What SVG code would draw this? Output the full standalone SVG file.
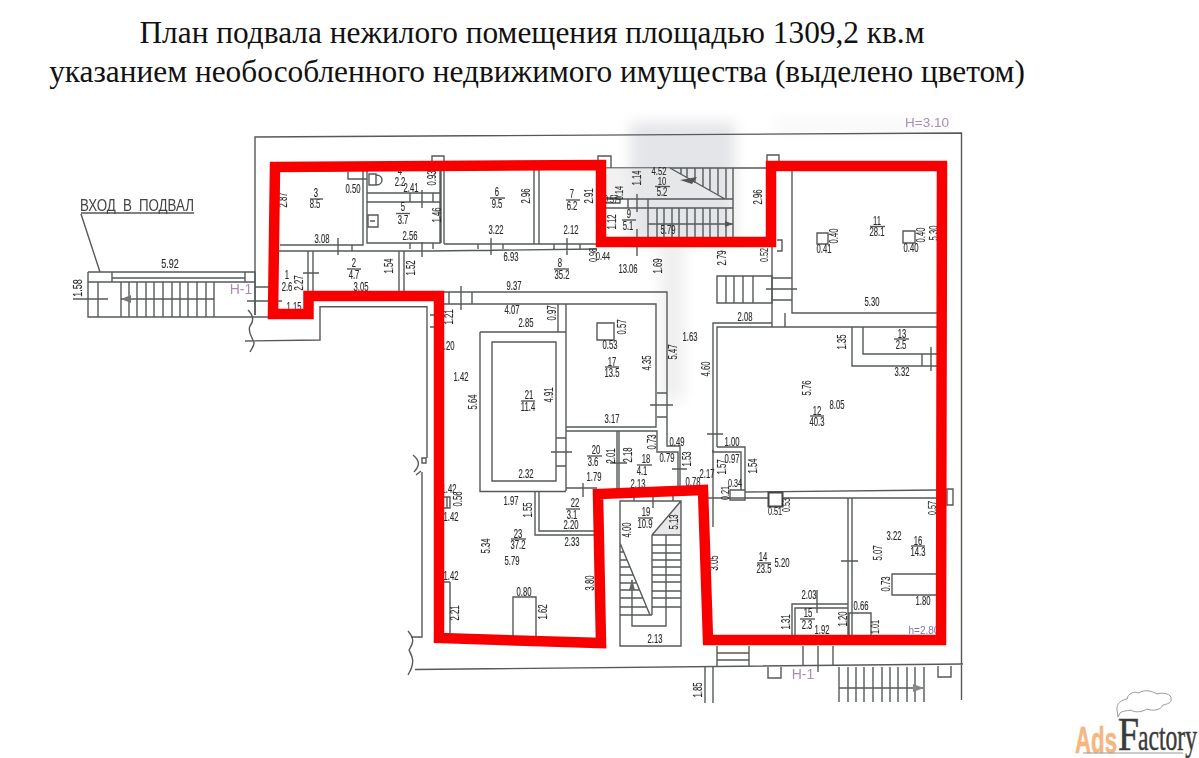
<svg xmlns="http://www.w3.org/2000/svg" width="1199" height="758" viewBox="0 0 1199 758">
<style>
.title{font-family:"Liberation Serif",serif;font-size:31.35px;fill:#111;text-anchor:middle}
.w{fill:none;stroke:#555a59;stroke-width:1.4}
.d{font-family:"Liberation Sans",sans-serif;font-size:12px;fill:#2c2c2c;stroke:#2c2c2c;stroke-width:.15;text-anchor:middle}
.p{font-family:"Liberation Sans",sans-serif;fill:#a98fb3;text-anchor:middle}
.red{fill:none;stroke:#f80000;stroke-width:10.500;stroke-linejoin:miter}
</style>
<defs>
<filter id="scan" x="-5%" y="-5%" width="110%" height="110%"><feGaussianBlur stdDeviation="0.35"/></filter>
<filter id="soft" x="-30%" y="-30%" width="160%" height="160%"><feGaussianBlur stdDeviation="7"/></filter>
</defs>
<rect width="1199" height="758" fill="#fff"/>
<g id="title">
<text class="title" x="532" y="43">План подвала нежилого помещения площадью 1309,2 кв.м</text>
<text class="title" x="537" y="82">указанием необособленного недвижимого имущества (выделено цветом)</text>
</g>
<g id="scan-shade" filter="url(#soft)">
<rect x="630" y="122" width="105" height="120" fill="#e4e5e8"/>
<rect x="660" y="240" width="24" height="160" fill="#efefef"/>
<rect x="775" y="120" width="175" height="12" fill="#f6f6f8"/>
</g>
<g id="plan" filter="url(#scan)">
<g id="walls">
<path class="w" d="M255 315V137L961.500 133V700M415 669.500L963 664"/>
<path class="w" d="M88 272H245V282M88 272V317H270M88 282H255M112 272V282M112 278H245M245 272H255V315M255 287H270M247 301H282M98 282V317M121 282V317M129 282V317M137 282V317M146 282V317M154 282V317M163 282V317M172 282V317M180 282V317M188 282V317M197 282V317M206 282V317M214 282V317M73 299H108M121 299H214"/>
<path d="M121 299L131 295V303Z" fill="#777"/>
<path class="w" d="M81 213H194M81 214L100 272"/>
<path class="w" d="M248 310C254 316 254 321 250 326C247 332 253 338 254 343C254 347 251 349 250 352M245 341L320 340V306.700H427V458M413 455C420 461 420 465 414 472M416 475L421 471M422 458H426V463H422ZM422 472V637H411M408 631C416 640 412 645 409 650C412 656 416 662 408 675"/>
<path class="w" d="M280 245H363V171M348 172V179H367V171M278 251H430L597 249M367 171V243H440V171M367 193H440M367 202H440M410 193V202M422 190V208M433 193V202M410 243V249M422 242V257M433 243V249M338 238V255M352 245V251M308 251V291M313 251V291M303 273H319M399 251V292M404 251V292M444 170V244M441 170V243M534 170V244M539 170V244M444 244H597M478 244V249M491 238V255M503 244V249M554 244V249M567 238V255M580 244V249"/>
<path class="w" d="M369 174H376V185H369ZM376 175C384 175 384 185 376 185M368 215H378V227H368ZM370 221H375"/>
<path class="w" d="M432 162V156H444V162M598 160V156H611V168M767 168V155H779V162M605 168H767"/>
<path fill="#e8e8ea" d="M670 168L725 199H606V168Z" opacity=".6"/>
<path class="w" d="M670 168L725 199M681 168V174M687 168V178M695 168V183M703 168V187M710 168V191M718 168V195M726 168V199M733 168V237M605 199H733M605 208H733M628 199V208M648 199V237M657 208V237M664 208V237M672 208V237M679 208V237M687 208V237M695 208V237M703 208V237M710 208V237M718 208V237M726 208V237M648 224H733M637 194V212M606 198H620V203H606M637 229V256M772 245V313M777 240H782V251H777"/>
<path d="M733 224L725 221V227Z" fill="#555"/>
<path d="M680 180L697 177L692 184Z" fill="#555"/>
<path class="w" d="M792 171V313H937M717 276H772V303H717ZM726 276V303M734 276V303M743 276V303M753 276V303M772 278H792M772 300H792M766 289H797M772 313V327H785V313M713 527V323H772M717 447V327H938"/>
<path class="w" d="M817 233h11v11h-11zM903 231h12v12h-12z"/>
<path class="w" d="M717 447H745V490M713 450V452H741V490M707 434H723M745 492L938 490M707 498H768M783 498H937M730 490H745V500H730ZM947 489H953V505H947ZM852 327V366H937M863 327V354H937M922 354V366M931 347V371"/>
<path d="M768.500 492.500h14v14h-14z" fill="#fff" stroke="#444" stroke-width="2"/>
<path class="w" d="M848 498V635M852 498V635M841 561H858M792 635V604H848M795 635V608H848M817 590V613M849 635V613H871V635M936 574H892V595H936M717 646V666M749 646V666M717 653H749M717 660H749M803 646V666M833 646V666M818 646V672M768 667V678H781V667M938 666V677H951V666M705 667V703M713 667V703"/>
<path class="w" d="M839 667V702M848 667V702M856 667V702M864 667V702M873 667V702M882 667V702M890 667V702M898 667V702M907 667V702M915 667V702M924 667V702M839 688H923"/>
<path d="M924 688L913 684V692Z" fill="#888"/>
<path class="w" d="M443 292H667V446H680V490M443 304H656V427H566M449 292V304M461 286V310M472 292V304M558 304V332M480 332H566V491M480 332V491.500H566M492 342H556V481H492ZM556 438H566M556 466H566M551 452H572M566 304V427M566 431H657V452H678V488M657 393H667M657 417H667M650 405H673M597 323h17v17h-17zM617 431V490M619 431V490M610 463H627M566 488H597M583 483V497M672 469H687M430 315H435V327H430"/>
<path class="w" d="M535 492V535H597M539 492V531H597M450 582V635M444 582H450M444 497H450V508H444M447 497V508M513 636V597H536V636"/>
<path fill="#e8e8ea" d="M652 535L681 501V535Z"/>
<path class="w" d="M620 501H681V646H620ZM652 535L681 501M652 535V615M666 535V626H632V615M652 535H681M652 545H681M652 553H681M652 560H681M652 567H681M652 575H681M652 582H681M652 591H681M652 598H681M652 607H681M620 543L650 615M620 615H652M620 552H624M620 560H627M620 567H630M620 575H633M620 583H636M620 590H639M620 598H643M620 607H646M632 580V615M634 495V501M653 495V508M673 495V501"/>
<path d="M632 579L629 590H635Z" fill="#666"/>
</g>
<g id="labels">
<text class="d" transform="translate(316 197) scale(.64 1)">3</text><text class="d" transform="translate(315 208) scale(.64 1)">8.5</text><path class="w" d="M310 199H323"/>
<text class="d" transform="translate(353 193) scale(.64 1)">0.50</text>
<text class="d" transform="translate(287 200) rotate(-90) scale(.64 1)">2.87</text>
<text class="d" transform="translate(400 175) scale(.64 1)">4</text><text class="d" transform="translate(400 186) scale(.64 1)">2.2</text>
<text class="d" transform="translate(411 192) scale(.64 1)">2.41</text>
<text class="d" transform="translate(436 178) rotate(-90) scale(.64 1)">0.93</text>
<text class="d" transform="translate(403 211) scale(.64 1)">5</text><text class="d" transform="translate(403 224) scale(.64 1)">3.7</text><path class="w" d="M396 213.500H410"/>
<text class="d" transform="translate(441 215) rotate(-90) scale(.64 1)">1.46</text>
<text class="d" transform="translate(410 240) scale(.64 1)">2.56</text>
<text class="d" transform="translate(322 243) scale(.64 1)">3.08</text>
<text class="d" transform="translate(287 279) scale(.64 1)">1</text><text class="d" transform="translate(287 291) scale(.64 1)">2.6</text>
<text class="d" transform="translate(303 283) rotate(-90) scale(.64 1)">2.27</text>
<text class="d" transform="translate(354 267) scale(.64 1)">2</text><text class="d" transform="translate(354 279) scale(.64 1)">4.7</text><path class="w" d="M347 269H361"/>
<text class="d" transform="translate(393 266) rotate(-90) scale(.64 1)">1.54</text>
<text class="d" transform="translate(415 268) rotate(-90) scale(.64 1)">1.52</text>
<text class="d" transform="translate(361 291) scale(.64 1)">3.05</text>
<text class="d" transform="translate(294 311) scale(.64 1)">1.15</text>
<text class="d" transform="translate(453 317) rotate(-90) scale(.64 1)">1.21</text>
<text class="d" transform="translate(170 268) scale(.75 1)">5.92</text>
<text class="d" transform="translate(82 288) rotate(-90) scale(.75 1)">1.58</text>
<text class="p" x="241" y="294" font-size="14">Н-1</text>
<text class="d" transform="translate(497 196) scale(.64 1)">6</text><text class="d" transform="translate(497 207.500) scale(.64 1)">9.5</text><path class="w" d="M490 198H505"/>
<text class="d" transform="translate(530 196) rotate(-90) scale(.64 1)">2.96</text>
<text class="d" transform="translate(496 234) scale(.64 1)">3.22</text>
<text class="d" transform="translate(572 198) scale(.64 1)">7</text><text class="d" transform="translate(572 209.500) scale(.64 1)">6.2</text><path class="w" d="M566 200H580"/>
<text class="d" transform="translate(593 196) rotate(-90) scale(.64 1)">2.91</text>
<text class="d" transform="translate(571 234) scale(.64 1)">2.12</text>
<text class="d" transform="translate(511 261) scale(.64 1)">6.93</text>
<text class="d" transform="translate(560 267) scale(.64 1)">8</text><text class="d" transform="translate(562 279) scale(.64 1)">35.2</text><path class="w" d="M554 269H569"/>
<text class="d" transform="translate(628 273) scale(.64 1)">13.06</text>
<text class="d" transform="translate(662 266) rotate(-90) scale(.64 1)">1.69</text>
<text class="d" transform="translate(726 258) rotate(-90) scale(.64 1)">2.79</text>
<text class="d" transform="translate(514 290) scale(.64 1)">9.37</text>
<text class="d" transform="translate(512 314) scale(.64 1)">4.07</text>
<text class="d" transform="translate(526 327) scale(.64 1)">2.85</text>
<text class="d" transform="translate(556 313) rotate(-90) scale(.64 1)">0.97</text>
<text class="d" transform="translate(626 327) rotate(-90) scale(.64 1)">0.57</text>
<text class="d" transform="translate(610 349) scale(.64 1)">0.53</text>
<text class="d" transform="translate(745 321) scale(.64 1)">2.08</text>
<text class="d" transform="translate(690 341) scale(.64 1)">1.63</text>
<text class="d" transform="translate(659 175) scale(.64 .9)">4.52</text>
<text class="d" transform="translate(641 178) rotate(-90) scale(.64 1)">1.14</text>
<text class="d" transform="translate(662 185) scale(.64 .9)">10</text><text class="d" transform="translate(662 195.500) scale(.64 1)">5.2</text><path class="w" d="M655 186.500H670"/>
<text class="d" transform="translate(623 193) rotate(-90) scale(.6 .9)">0.14</text>
<text class="d" transform="translate(611 203) scale(.6 .9)">0.57</text>
<text class="d" transform="translate(616 222) rotate(-90) scale(.64 1)">1.12</text>
<text class="d" transform="translate(629 218) scale(.64 1)">9</text><text class="d" transform="translate(628 229.500) scale(.64 1)">5.1</text><path class="w" d="M622 220H636"/>
<text class="d" transform="translate(668 234) scale(.64 1)">5.79</text>
<text class="d" transform="translate(762 197) rotate(-90) scale(.64 1)">2.96</text>
<text class="d" transform="translate(603 260) scale(.6 .9)">0.44</text>
<text class="d" transform="translate(597 255) rotate(-90) scale(.6 .9)">0.98</text>
<text class="d" transform="translate(768 255) rotate(-90) scale(.6 .9)">0.52</text>
<text class="d" transform="translate(877 225) scale(.64 1)">11</text><text class="d" transform="translate(877 236) scale(.64 1)">28.1</text><path class="w" d="M870 226.500H885"/>
<text class="d" transform="translate(838 236) rotate(-90) scale(.64 1)">0.40</text>
<text class="d" transform="translate(824 253) scale(.64 1)">0.41</text>
<text class="d" transform="translate(925 235) rotate(-90) scale(.64 1)">0.40</text>
<text class="d" transform="translate(911 252) scale(.64 1)">0.40</text>
<text class="d" transform="translate(938 233) rotate(-90) scale(.64 1)">5.30</text>
<text class="d" transform="translate(872 306) scale(.64 1)">5.30</text>
<text class="d" transform="translate(846 342) rotate(-90) scale(.64 1)">1.35</text>
<text class="d" transform="translate(902 337.500) scale(.64 1)">13</text><text class="d" transform="translate(901 349) scale(.64 1)">2.5</text><path class="w" d="M894 339H909"/>
<text class="p" x="927" y="127" font-size="13.500">Н=3.10</text>
<text class="d" transform="translate(447 350) scale(.64 1)">1.20</text>
<text class="d" transform="translate(461 381) scale(.64 1)">1.42</text>
<text class="d" transform="translate(477 402) rotate(-90) scale(.64 1)">5.64</text>
<text class="d" transform="translate(529 399) scale(.64 1)">21</text><text class="d" transform="translate(528 410.500) scale(.64 1)">11.4</text><path class="w" d="M521 401H535"/>
<text class="d" transform="translate(553 395) rotate(-90) scale(.64 1)">4.91</text>
<text class="d" transform="translate(526 478) scale(.64 1)">2.32</text>
<text class="d" transform="translate(612 365.500) scale(.64 1)">17</text><text class="d" transform="translate(612 377) scale(.64 1)">13.5</text><path class="w" d="M605 367H619"/>
<text class="d" transform="translate(651 363) rotate(-90) scale(.64 1)">4.35</text>
<text class="d" transform="translate(612 423) scale(.64 1)">3.17</text>
<text class="d" transform="translate(677 352) rotate(-90) scale(.64 1)">5.47</text>
<text class="d" transform="translate(710 369) rotate(-90) scale(.64 1)">4.60</text>
<text class="d" transform="translate(677 446) scale(.64 1)">0.49</text>
<text class="d" transform="translate(656 442) rotate(-90) scale(.64 1)">0.73</text>
<text class="d" transform="translate(667 462) scale(.64 1)">0.79</text>
<text class="d" transform="translate(691 459) rotate(-90) scale(.64 1)">1.53</text>
<text class="d" transform="translate(596 454) scale(.64 1)">20</text><text class="d" transform="translate(593 465.500) scale(.64 1)">3.6</text><path class="w" d="M587 456H602"/>
<text class="d" transform="translate(615 456) rotate(-90) scale(.64 1)">2.01</text>
<text class="d" transform="translate(632 455) rotate(-90) scale(.64 1)">2.18</text>
<text class="d" transform="translate(646 463) scale(.64 1)">18</text><text class="d" transform="translate(642 474.500) scale(.64 1)">4.1</text><path class="w" d="M637 465H652"/>
<text class="d" transform="translate(594 481) scale(.64 1)">1.79</text>
<text class="d" transform="translate(638 488) scale(.64 1)">2.13</text>
<text class="d" transform="translate(693 486) scale(.64 1)">0.78</text>
<text class="d" transform="translate(707 478) scale(.64 1)">2.17</text>
<text class="d" transform="translate(511 505) scale(.64 1)">1.97</text>
<text class="d" transform="translate(449 493) scale(.64 1)">1.42</text>
<text class="d" transform="translate(462 499) rotate(-90) scale(.64 1)">0.56</text>
<text class="d" transform="translate(451 521) scale(.64 1)">1.42</text>
<text class="d" transform="translate(532 510) rotate(-90) scale(.64 1)">1.55</text>
<text class="d" transform="translate(575 507) scale(.64 1)">22</text><text class="d" transform="translate(572 518.500) scale(.64 1)">3.1</text><path class="w" d="M566 509H580"/>
<text class="d" transform="translate(571 529) scale(.64 1)">2.20</text>
<text class="d" transform="translate(572 546) scale(.64 1)">2.33</text>
<text class="d" transform="translate(518 537.500) scale(.64 1)">23</text><text class="d" transform="translate(518 549) scale(.64 1)">37.2</text><path class="w" d="M511 539H526"/>
<text class="d" transform="translate(490 546) rotate(-90) scale(.64 1)">5.34</text>
<text class="d" transform="translate(512 565) scale(.64 1)">5.79</text>
<text class="d" transform="translate(451 580) scale(.64 1)">1.42</text>
<text class="d" transform="translate(459 613) rotate(-90) scale(.64 1)">2.21</text>
<text class="d" transform="translate(524 596) scale(.64 1)">0.80</text>
<text class="d" transform="translate(547 612) rotate(-90) scale(.64 1)">1.62</text>
<text class="d" transform="translate(594 583) rotate(-90) scale(.64 1)">3.80</text>
<text class="d" transform="translate(646 516) scale(.64 1)">19</text><text class="d" transform="translate(645 528) scale(.64 1)">10.9</text><path class="w" d="M638 518H653"/>
<text class="d" transform="translate(678 522) rotate(-90) scale(.64 1)">5.13</text>
<text class="d" transform="translate(631 530) rotate(-90) scale(.64 1)">4.00</text>
<text class="d" transform="translate(655 643) scale(.64 1)">2.13</text>
<text class="d" transform="translate(702 690) rotate(-90) scale(.64 1)">1.85</text>
<text class="d" transform="translate(732 446) scale(.64 1)">1.00</text>
<text class="d" transform="translate(732 463) scale(.64 1)">0.97</text>
<text class="d" transform="translate(726 467) rotate(-90) scale(.64 1)">1.57</text>
<text class="d" transform="translate(757 466) rotate(-90) scale(.64 1)">1.54</text>
<text class="d" transform="translate(735 487) scale(.6 .9)">0.34</text>
<text class="d" transform="translate(729 493) rotate(-90) scale(.6 .9)">0.21</text>
<text class="d" transform="translate(775 515) scale(.6 .9)">0.51</text>
<text class="d" transform="translate(790 505) rotate(-90) scale(.6 .9)">0.53</text>
<text class="d" transform="translate(902 376) scale(.64 1)">3.32</text>
<text class="d" transform="translate(811 388) rotate(-90) scale(.64 1)">5.76</text>
<text class="d" transform="translate(837 409) scale(.64 1)">8.05</text>
<text class="d" transform="translate(817 414.500) scale(.64 1)">12</text><text class="d" transform="translate(817 426) scale(.64 1)">40.3</text><path class="w" d="M810 416H824"/>
<text class="d" transform="translate(936 508) rotate(-90) scale(.6 .9)">0.57</text>
<text class="d" transform="translate(763 561) scale(.64 1)">14</text><text class="d" transform="translate(764 573) scale(.64 1)">23.5</text><path class="w" d="M757 563H771"/>
<text class="d" transform="translate(782 567) scale(.64 1)">5.20</text>
<text class="d" transform="translate(718 563) rotate(-90) scale(.64 1)">3.05</text>
<text class="d" transform="translate(894 540) scale(.64 1)">3.22</text>
<text class="d" transform="translate(882 553) rotate(-90) scale(.64 1)">5.07</text>
<text class="d" transform="translate(918 544.500) scale(.64 1)">16</text><text class="d" transform="translate(918 556) scale(.64 1)">14.3</text><path class="w" d="M911 546H925"/>
<text class="d" transform="translate(890 584) rotate(-90) scale(.64 1)">0.73</text>
<text class="d" transform="translate(923 605) scale(.64 1)">1.80</text>
<text class="d" transform="translate(809 599) scale(.64 1)">2.03</text>
<text class="d" transform="translate(861 610) scale(.64 1)">0.66</text>
<text class="d" transform="translate(790 622) rotate(-90) scale(.64 1)">1.31</text>
<text class="d" transform="translate(808 617) scale(.64 1)">15</text><text class="d" transform="translate(807 628.500) scale(.64 1)">2.3</text><path class="w" d="M800 619H815"/>
<text class="d" transform="translate(822 634) scale(.64 1)">1.92</text>
<text class="d" transform="translate(847 619) rotate(-90) scale(.64 1)">1.20</text>
<text class="d" transform="translate(879 627) rotate(-90) scale(.6 .9)">1.01</text>
<text x="924" y="634" font-family="Liberation Sans,sans-serif" font-size="10" fill="#7a78b8" text-anchor="middle">h=2.80</text>
<text class="p" x="803" y="679" font-size="14">Н-1</text>
<text x="80" y="211" font-family="Liberation Sans,sans-serif" font-size="16" word-spacing="4" fill="#444" textLength="114" lengthAdjust="spacingAndGlyphs">ВХОД В ПОДВАЛ</text>
</g>
</g>
<path id="highlight" class="red" d="M275 167L601 165V242H771V166H942L941 640H708L703 490L598 494L601 643L439 638V296H308.500V314H273Z"/>
<g id="logo">
<path d="M1118 717L1117 710C1116 703 1122 700 1127 699C1128 693 1135 691 1139 693C1144 689 1152 691 1157 694C1163 692 1172 694 1171 699C1172 703 1167 704 1163 705C1160 711 1152 711 1147 709C1142 712 1135 713 1131 710C1126 711 1122 711 1120 713Z" fill="#fff" stroke="#8f8f8f" stroke-width=".9"/>
<text x="1075" y="753" font-family="Liberation Sans,sans-serif" font-weight="bold" font-size="36" fill="#f5b67f" stroke="#f5b67f" stroke-width=".5" textLength="42" lengthAdjust="spacingAndGlyphs">Ads</text>
<text x="1118" y="750" font-family="Liberation Serif,serif" font-size="46" fill="#3a3a3a" stroke="#3a3a3a" stroke-width=".6" textLength="21" lengthAdjust="spacingAndGlyphs">F</text>
<text x="1138" y="750" font-family="Liberation Serif,serif" font-size="38" fill="#3a3a3a" stroke="#3a3a3a" stroke-width=".5" textLength="59" lengthAdjust="spacingAndGlyphs">actory</text>
<path d="M1083 753H1183" stroke="#999" stroke-width="1"/>
</g>
</svg>
